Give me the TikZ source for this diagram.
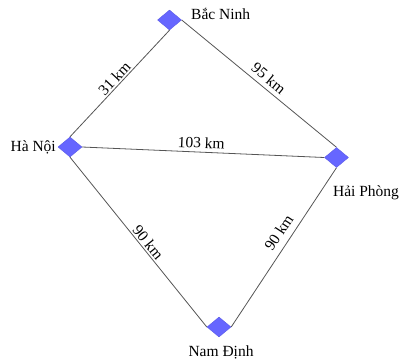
\documentclass[tikz,border=0pt]{standalone}
\usepackage{fontspec}
\setmainfont{Liberation Serif}
\usetikzlibrary{shapes.geometric,backgrounds}
\definecolor{cityfill}{HTML}{6666FF}
\definecolor{cityline}{HTML}{5A5AE6}
\definecolor{edgegray}{HTML}{555555}
\begin{document}
\begin{tikzpicture}[x=1pt,y=-1pt,
  city/.style={diamond, fill=cityfill, draw=cityline, line width=0.4pt,
    minimum width=24pt, minimum height=20pt, inner sep=0pt},
  lbl/.style={font=\fontsize{15.5}{17}\selectfont, inner sep=0pt},
  edge/.style={draw=edgegray, line width=0.8pt},
  elbl/.style={font=\fontsize{15.5}{17}\selectfont, sloped, inner sep=1.5pt}]
\path[use as bounding box] (0,0) rectangle (404,362);
\node[city] (bn) at (169.5,20) {};
\node[city] (hn) at (70,147) {};
\node[city] (hp) at (336.5,157.5) {};
\node[city] (nd) at (219,327) {};
\node[lbl, anchor=west] (bnl) at (191,14) {Bắc Ninh};
\node[lbl, anchor=east] (hnl) at (56,147) {Hà Nội};
\node[lbl] (hpl) at (366,193) {Hải Phòng};
\node[lbl] (ndl) at (221,352) {Nam Định};
\begin{scope}[on background layer]
\draw[edge] (hn.north) -- node[elbl, above] (l1) {31 km} (bn.south);
\draw[edge] (bn.east) -- node[elbl, above=3pt, pos=0.52] (l2) {95 km} (hp.north);
\draw[edge] (hn.east) -- node[elbl, above=2pt, pos=0.49] (l3) {103 km} (hp.west);
\draw[edge] (hn.south) -- node[elbl, above, pos=0.53] (l4) {90 km} (nd.west);
\draw[edge] (nd.east) -- node[elbl, above=5pt, pos=0.55] (l5) {90 km} (hp.south);
\end{scope}
\end{tikzpicture}
\end{document}
